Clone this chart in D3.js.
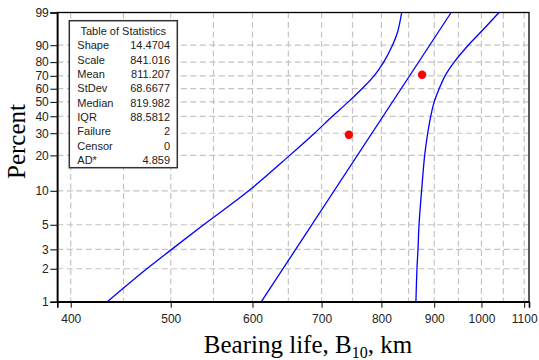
<!DOCTYPE html>
<html>
<head>
<meta charset="utf-8">
<script src="https://cdn.jsdelivr.net/npm/d3@7"></script>
<style>
  html, body { margin: 0; padding: 0; background: #fff; }
  svg { display: block; }
  .axis text { font-family: Arial, "Liberation Sans", sans-serif; font-size: 12px; fill: #222; }
  .axis path, .axis line { stroke: #000; }
</style>
</head>
<body>
<svg id="chart" width="539" height="360"></svg>
<script>
// Weibull probability plot of bearing life (two failures)
const xTicks = [400, 500, 600, 700, 800, 900, 1000, 1100];
const xGrid = [400, 450, 500, 550, 600, 650, 700, 750, 800, 850, 900, 950, 1000, 1050, 1100];
const percentTicks = [1, 2, 3, 5, 10, 20, 30, 40, 50, 60, 70, 80, 90, 99];

// Failure data: life (km) and median-rank plotting positions (%)
const failureLife = [744, 876];
const failurePercent = [29.17, 70.83];

// Fitted Weibull parameters
const shape = 14.4704;
const scale = 841.016;
const fitPercent = [1, 99];

// 95% confidence bounds (percent, km)
const lowerPercent = [1, 2, 3, 5, 10, 20, 30, 40, 50, 60, 70, 80, 90, 95, 99];
const lowerLife    = [434, 474, 501, 538, 595, 652, 689, 717, 743, 766, 787, 804, 820, 829, 837];
const upperPercent = [1, 2, 3, 5, 10, 20, 30, 40, 50, 60, 70, 80, 90, 95, 99];
const upperLife    = [864, 866, 868, 870, 875, 881, 887, 893, 900, 910, 922, 941, 971, 997, 1040];

// Table of statistics
const statNames  = ["Shape", "Scale", "Mean", "StDev", "Median", "IQR", "Failure", "Censor", "AD*"];
const statValues = ["14.4704", "841.016", "811.207", "68.6677", "819.982", "88.5812", "2", "0", "4.859"];

const svg = d3.select("#chart");
const plotLeft = 57.3, plotTop = 12.5, plotRight = 529, plotBottom = 301.7;

// Weibull probability transform
const wb = p => Math.log(-Math.log(1 - p / 100));

const x = d3.scaleLog().domain([388.2, 1111.9]).range([plotLeft, plotRight]);
const yLin = d3.scaleLinear().domain([wb(1), wb(99)]).range([plotBottom, plotTop]);
const y = p => yLin(wb(p));

// grid
const grid = svg.append("g")
  .attr("stroke", "#c4c4c4").attr("stroke-width", 1.2).attr("stroke-dasharray", "6,3.5");
grid.selectAll("line.v").data(xGrid).join("line").attr("class", "v")
  .attr("x1", d => x(d)).attr("x2", d => x(d)).attr("y1", plotTop).attr("y2", plotBottom);
grid.selectAll("line.h").data(percentTicks.filter(p => p < 99)).join("line").attr("class", "h")
  .attr("x1", plotLeft).attr("x2", plotRight).attr("y1", d => y(d)).attr("y2", d => y(d));

// frame
svg.append("rect").attr("x", plotLeft).attr("y", plotTop)
  .attr("width", plotRight - plotLeft).attr("height", plotBottom - plotTop)
  .attr("fill", "none").attr("stroke", "#000").attr("stroke-width", 1.3);

// axes
const xAxis = svg.append("g").attr("class", "axis")
  .attr("transform", `translate(0,${plotBottom})`)
  .call(d3.axisBottom(x).tickValues(xTicks).tickFormat(d3.format("d")).tickSize(6).tickPadding(7));
xAxis.select(".domain").attr("stroke-width", 1.6);

const yAxis = svg.append("g").attr("class", "axis")
  .attr("transform", `translate(${plotLeft},0)`)
  .call(d3.axisLeft(yLin).tickValues(percentTicks.map(wb))
    .tickFormat((d, i) => percentTicks[i]).tickSize(7).tickPadding(1.5));
yAxis.select(".domain").attr("stroke-width", 1.6);

// confidence bound curves
const curve = d3.line().x(d => x(d[1])).y(d => y(d[0])).curve(d3.curveCatmullRom.alpha(0.5));
const plot = svg.append("g");
plot.append("path").datum(lowerPercent.map((p, i) => [p, lowerLife[i]]))
  .attr("d", curve).attr("fill", "none").attr("stroke", "#0000ff").attr("stroke-width", 1.3);
plot.append("path").datum(upperPercent.map((p, i) => [p, upperLife[i]]))
  .attr("d", curve).attr("fill", "none").attr("stroke", "#0000ff").attr("stroke-width", 1.3);

// fitted line from shape and scale
const fitLife = p => scale * Math.pow(-Math.log(1 - p / 100), 1 / shape);
plot.append("path").datum(fitPercent.map(p => [p, fitLife(p)]))
  .attr("d", d3.line().x(d => x(d[1])).y(d => y(d[0])))
  .attr("fill", "none").attr("stroke", "#0000ff").attr("stroke-width", 1.3);

// failure points
plot.selectAll("circle").data(failureLife).join("circle")
  .attr("cx", d => x(d)).attr("cy", (d, i) => y(failurePercent[i]))
  .attr("r", 4.2).attr("fill", "#ff0000");

// statistics table
const tb = svg.append("g").attr("font-family", "Arial, 'Liberation Sans', sans-serif")
  .attr("font-size", 11).attr("fill", "#222");
tb.append("rect").attr("x", 69.3).attr("y", 20.7).attr("width", 108).attr("height", 147)
  .attr("fill", "#fff").attr("stroke", "#333").attr("stroke-width", 1.5);
const row0 = 34.8, rowStep = 14.375;
tb.append("text").attr("x", 123.3).attr("y", row0).attr("text-anchor", "middle").text("Table of Statistics");
tb.selectAll("text.n").data(statNames).join("text").attr("class", "n")
  .attr("x", 77.3).attr("y", (d, i) => row0 + (i + 1) * rowStep).text(d => d);
tb.selectAll("text.v").data(statValues).join("text").attr("class", "v")
  .attr("x", 170).attr("y", (d, i) => row0 + (i + 1) * rowStep).attr("text-anchor", "end").text(d => d);

// axis titles
svg.append("text")
  .attr("transform", "translate(25,141.5) rotate(-90)")
  .attr("text-anchor", "middle")
  .attr("font-family", "'Liberation Serif', 'Times New Roman', serif")
  .attr("font-size", 25).attr("fill", "#000").text("Percent");

const xt = svg.append("text").attr("x", 308).attr("y", 353)
  .attr("text-anchor", "middle")
  .attr("font-family", "'Liberation Serif', 'Times New Roman', serif")
  .attr("font-size", 25).attr("fill", "#000");
xt.append("tspan").text("Bearing life, B");
xt.append("tspan").attr("font-size", 16).attr("dy", 5).text("10");
xt.append("tspan").attr("dy", -5).text(", km");
</script>
</body>
</html>
